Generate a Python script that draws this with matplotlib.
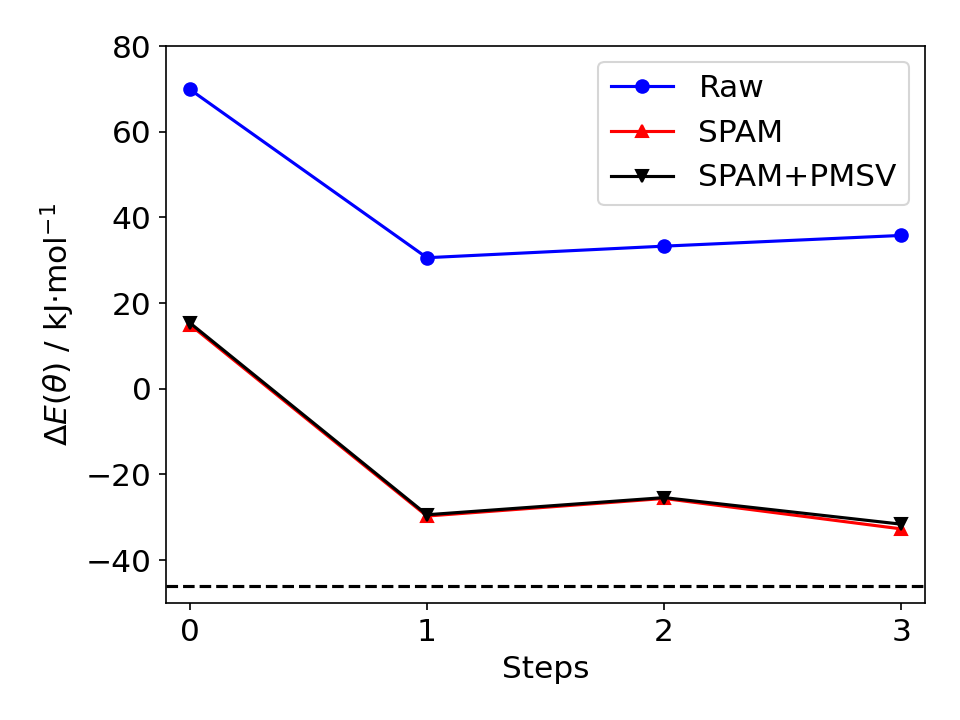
import matplotlib
matplotlib.use("Agg")
import matplotlib.pyplot as plt

steps = [0, 1, 2, 3]
raw = [69.9, 30.6, 33.3, 35.8]
spam = [15.0, -29.7, -25.6, -32.7]
spam_pmsv = [15.4, -29.4, -25.4, -31.6]
reference = -46.1

plt.rcParams['font.size'] = 15

fig, ax = plt.subplots(figsize=(6.4, 4.8), dpi=150)
ax.plot(steps, raw, 'o-', color='blue', label='Raw')
ax.plot(steps, spam, '^-', color='red', label='SPAM')
ax.plot(steps, spam_pmsv, 'v-', color='black', label='SPAM+PMSV')
ax.axhline(reference, color='black', linestyle='--')
ax.set_xlim(-0.1, 3.1)
ax.set_ylim(-50, 80)
ax.set_xticks(steps)
ax.set_xlabel('Steps')
ax.set_ylabel(r'$\Delta E(\theta)$ / kJ$\cdot$mol$^{-1}$')
ax.legend(loc='upper right')
fig.subplots_adjust(left=0.173, right=0.9635, top=0.936, bottom=0.1625)
fig.savefig('out.png', dpi=150)
